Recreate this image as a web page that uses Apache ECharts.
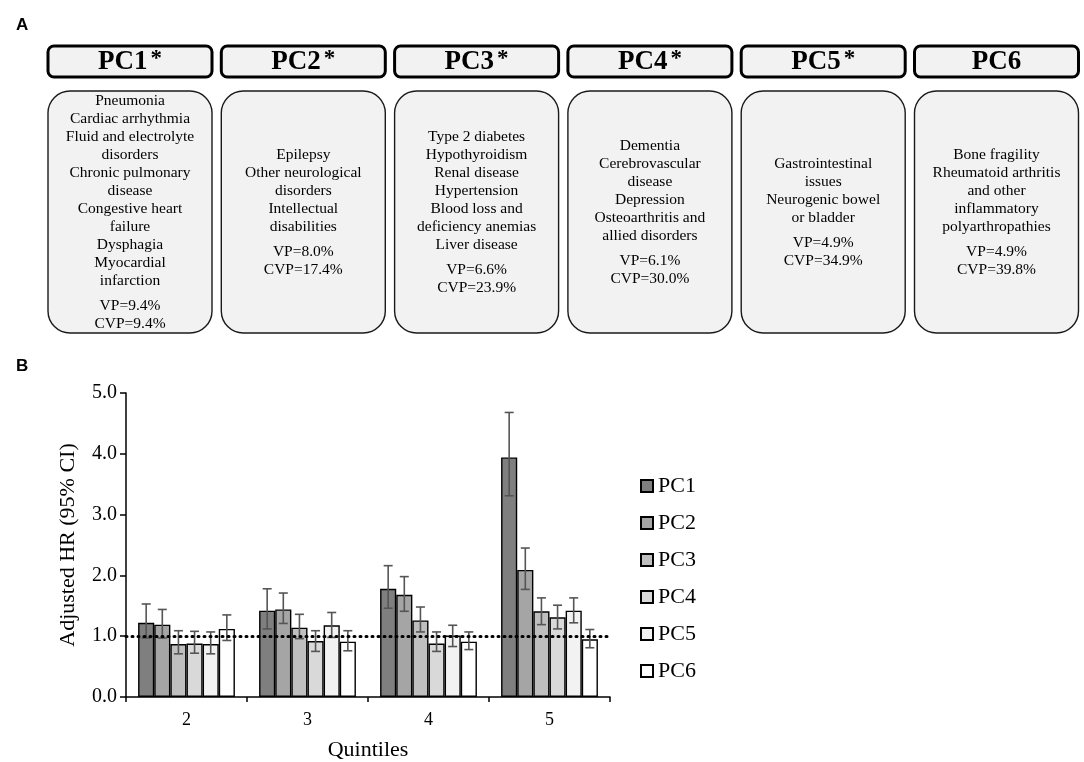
<!DOCTYPE html>
<html>
<head>
<meta charset="utf-8">
<title>PC components and adjusted HR by quintile</title>
<script src="https://cdn.jsdelivr.net/npm/echarts@6/dist/echarts.min.js"></script>
<style>
  html, body { margin: 0; padding: 0; background: #fff; }
  #chart { width: 1084px; height: 762px; }
</style>
</head>
<body>
<div id="chart"></div>
<script>
// ---- panel A data ----
var pcNames = ['PC1', 'PC2', 'PC3', 'PC4', 'PC5', 'PC6'];
var pcStarred = [true, true, true, true, true, false];
var pcConditions = [
    ['Pneumonia', 'Cardiac arrhythmia', 'Fluid and electrolyte', 'disorders', 'Chronic pulmonary',
     'disease', 'Congestive heart', 'failure', 'Dysphagia', 'Myocardial', 'infarction'],
    ['Epilepsy', 'Other neurological', 'disorders', 'Intellectual', 'disabilities'],
    ['Type 2 diabetes', 'Hypothyroidism', 'Renal disease', 'Hypertension', 'Blood loss and',
     'deficiency anemias', 'Liver disease'],
    ['Dementia', 'Cerebrovascular', 'disease', 'Depression', 'Osteoarthritis and', 'allied disorders'],
    ['Gastrointestinal', 'issues', 'Neurogenic bowel', 'or bladder'],
    ['Bone fragility', 'Rheumatoid arthritis', 'and other', 'inflammatory', 'polyarthropathies']
];
var pcVP = ['9.4', '8.0', '6.6', '6.1', '4.9', '4.9'];
var pcCVP = ['9.4', '17.4', '23.9', '30.0', '34.9', '39.8'];

// ---- panel B data ----
var quintiles = ['2', '3', '4', '5'];
var yTicks = [0, 1, 2, 3, 4, 5];
var hrPC1 = [1.22, 1.42, 1.78, 3.94];
var hrPC2 = [1.19, 1.44, 1.68, 2.09];
var hrPC3 = [0.87, 1.14, 1.26, 1.41];
var hrPC4 = [0.88, 0.92, 0.88, 1.31];
var hrPC5 = [0.87, 1.18, 1.01, 1.42];
var hrPC6 = [1.12, 0.91, 0.91, 0.95];
var lowPC1 = [0.97, 1.12, 1.46, 3.31];
var lowPC2 = [0.97, 1.21, 1.41, 1.77];
var lowPC3 = [0.71, 0.96, 1.07, 1.19];
var lowPC4 = [0.72, 0.75, 0.75, 1.12];
var lowPC5 = [0.71, 0.98, 0.83, 1.22];
var lowPC6 = [0.93, 0.76, 0.78, 0.81];
var highPC1 = [1.53, 1.78, 2.16, 4.68];
var highPC2 = [1.44, 1.71, 1.98, 2.45];
var highPC3 = [1.09, 1.36, 1.48, 1.63];
var highPC4 = [1.08, 1.09, 1.07, 1.51];
var highPC5 = [1.07, 1.39, 1.18, 1.63];
var highPC6 = [1.35, 1.09, 1.07, 1.11];
var referenceHR = 1.0;

var hrAll = [hrPC1, hrPC2, hrPC3, hrPC4, hrPC5, hrPC6];
var lowAll = [lowPC1, lowPC2, lowPC3, lowPC4, lowPC5, lowPC6];
var highAll = [highPC1, highPC2, highPC3, highPC4, highPC5, highPC6];
var barColors = ['#7f7f7f', '#a5a5a5', '#bfbfbf', '#d9d9d9', '#f2f2f2', '#ffffff'];

var serif = "'Times New Roman', 'Liberation Serif', serif";
var sans = "Arial, 'Liberation Sans', sans-serif";
var catGap = 0.2; // barCategoryGap

// build panel A shapes
var graphics = [
    {type: 'text', left: 16, top: 17, style: {text: 'A', font: 'bold 17px ' + sans, fill: '#000'}},
    {type: 'text', left: 16, top: 358, style: {text: 'B', font: 'bold 17px ' + sans, fill: '#000'}}
];
var boxW = 164, boxStep = 173.3, box0 = 48;
var bodyTop = 91, bodyH = 242, lineH = 18, vpGap = 25;
pcNames.forEach(function (name, i) {
    var x = box0 + i * boxStep;
    graphics.push({
        type: 'rect', shape: {x: x, y: 46, width: boxW, height: 31, r: 6},
        style: {fill: '#f2f2f2', stroke: '#000', lineWidth: 3}
    });
    graphics.push({
        type: 'text', x: x + boxW / 2, y: 62,
        style: {
            text: '{b|' + name + '}' + (pcStarred[i] ? '{s|*}' : ''),
            align: 'center', verticalAlign: 'middle',
            rich: {
                b: {font: 'bold 27px ' + serif, fill: '#000'},
                s: {font: 'bold 23px ' + serif, fill: '#000', padding: [0, 0, 6, 3]}
            }
        }
    });
    graphics.push({
        type: 'rect', shape: {x: x, y: bodyTop, width: boxW, height: bodyH, r: 22},
        style: {fill: '#f2f2f2', stroke: '#1a1a1a', lineWidth: 1.4}
    });
    var lines = pcConditions[i];
    var span = (lines.length - 1) * lineH + vpGap + lineH;
    var y0 = bodyTop + bodyH / 2 - span / 2;
    var textLines = lines.map(function (t, k) { return {t: t, y: y0 + k * lineH}; });
    var vpY = y0 + (lines.length - 1) * lineH + vpGap;
    textLines.push({t: 'VP=' + pcVP[i] + '%', y: vpY});
    textLines.push({t: 'CVP=' + pcCVP[i] + '%', y: vpY + lineH});
    textLines.forEach(function (l) {
        graphics.push({
            type: 'text', x: x + boxW / 2, y: l.y,
            style: {text: l.t, font: '15.5px ' + serif, fill: '#000', align: 'center', verticalAlign: 'middle'}
        });
    });
});

// error bar renderer for the k-th bar of each group
function errorBars(k) {
    return function (params, api) {
        var cat = api.value(0);
        var lo = api.coord([cat, api.value(1)]);
        var hi = api.coord([cat, api.value(2)]);
        var band = api.size([1, 0])[0];
        var bw = band * (1 - catGap) / pcNames.length;
        var cx = lo[0] + (k - (pcNames.length - 1) / 2) * bw;
        var cap = 4.5;
        var st = {stroke: '#555', lineWidth: 1.6};
        return {
            type: 'group',
            children: [
                {type: 'line', shape: {x1: cx, y1: lo[1], x2: cx, y2: hi[1]}, style: st},
                {type: 'line', shape: {x1: cx - cap, y1: lo[1], x2: cx + cap, y2: lo[1]}, style: st},
                {type: 'line', shape: {x1: cx - cap, y1: hi[1], x2: cx + cap, y2: hi[1]}, style: st}
            ]
        };
    };
}

var series = [];
pcNames.forEach(function (name, k) {
    series.push({
        name: name,
        type: 'bar',
        data: hrAll[k],
        barGap: '0%',
        barCategoryGap: (catGap * 100) + '%',
        itemStyle: {color: barColors[k], borderColor: '#000', borderWidth: 1.4}
    });
});
pcNames.forEach(function (name, k) {
    series.push({
        name: name + ' CI',
        type: 'custom',
        renderItem: errorBars(k),
        z: 3,
        data: quintiles.map(function (q, j) { return [j, lowAll[k][j], highAll[k][j]]; }),
        markLine: k === pcNames.length - 1 ? {
            silent: true,
            symbol: 'none',
            label: {show: false},
            lineStyle: {color: '#000', type: [1, 5], width: 3, cap: 'round'},
            data: [{yAxis: referenceHR}]
        } : undefined
    });
});

var chart = echarts.init(document.getElementById('chart'));
chart.setOption({
    animation: false,
    backgroundColor: '#fff',
    graphic: graphics,
    grid: {left: 126, right: 474, top: 393, bottom: 65, containLabel: false, outerBoundsMode: 'none'},
    legend: {
        data: pcNames,
        orient: 'vertical',
        left: 635,
        top: 470,
        icon: 'rect',
        itemWidth: 12,
        itemHeight: 12,
        itemGap: 15,
        textStyle: {fontFamily: serif, fontSize: 22, color: '#000', lineHeight: 22}
    },
    xAxis: {
        type: 'category',
        data: quintiles,
        name: 'Quintiles',
        nameLocation: 'middle',
        nameGap: 42,
        nameTextStyle: {fontFamily: serif, fontSize: 22, color: '#000'},
        axisLine: {lineStyle: {color: '#000', width: 1.5}},
        axisTick: {show: true, length: 5, lineStyle: {color: '#000', width: 1.5}},
        axisLabel: {fontFamily: serif, fontSize: 18, color: '#000', margin: 14}
    },
    yAxis: {
        type: 'value',
        min: yTicks[0],
        max: yTicks[yTicks.length - 1],
        interval: 1,
        name: 'Adjusted HR (95% CI)',
        nameLocation: 'middle',
        nameGap: 47,
        nameTextStyle: {fontFamily: serif, fontSize: 22, color: '#000'},
        axisLine: {show: true, lineStyle: {color: '#000', width: 1.5}},
        axisTick: {show: true, length: 6, lineStyle: {color: '#000', width: 1.5}},
        splitLine: {show: false},
        axisLabel: {
            fontFamily: serif, fontSize: 20, color: '#000', margin: 9,
            formatter: function (v) { return v.toFixed(1); }
        }
    },
    series: series
});
</script>
</body>
</html>
